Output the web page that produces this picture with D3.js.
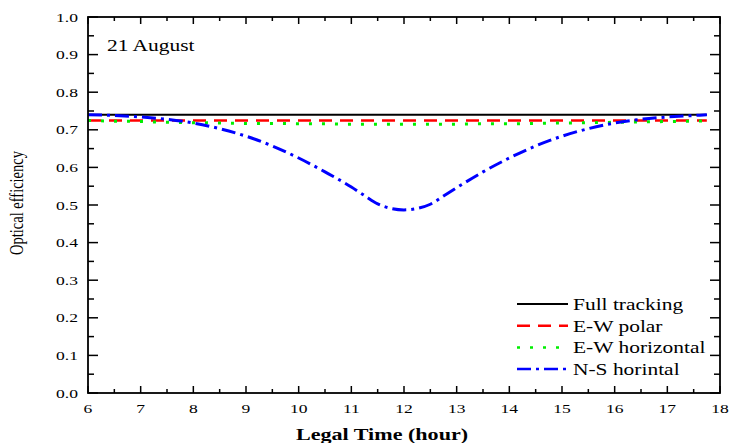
<!DOCTYPE html>
<html><head><meta charset="utf-8">
<script src="https://cdn.jsdelivr.net/npm/d3@7"></script>
<style>body{margin:0;background:#fff}svg{display:block}text{font-family:"Liberation Serif","Times New Roman",serif}</style>
</head><body><svg id="c" width="730" height="443"></svg>
<script>
const hours = [6,6.5,7,7.5,8,8.5,9,9.5,10,10.5,11,11.25,11.5,11.75,12,12.25,12.5,12.75,13,13.5,14,14.5,15,15.5,16,16.5,17,17.5,17.75];
const fullTracking = [0.74,0.74,0.74,0.74,0.74,0.74,0.74,0.74,0.74,0.74,0.74,0.74,0.74,0.74,0.74,0.74,0.74,0.74,0.74,0.74,0.74,0.74,0.74,0.74,0.74,0.74,0.74,0.74,0.74];
const ewPolar = [0.725,0.725,0.725,0.725,0.725,0.725,0.725,0.725,0.725,0.725,0.725,0.725,0.725,0.725,0.725,0.725,0.725,0.725,0.725,0.725,0.725,0.725,0.725,0.725,0.725,0.725,0.725,0.725,0.725];
const ewHorizontal = [0.725,0.723,0.722,0.720,0.719,0.718,0.717,0.717,0.716,0.716,0.715,0.715,0.715,0.715,0.715,0.715,0.715,0.715,0.715,0.716,0.716,0.717,0.718,0.719,0.720,0.721,0.722,0.723,0.724];
const nsHorizontal = [0.740,0.738,0.734,0.728,0.718,0.703,0.683,0.657,0.625,0.588,0.548,0.525,0.503,0.491,0.487,0.491,0.502,0.524,0.546,0.588,0.625,0.657,0.683,0.703,0.718,0.728,0.734,0.738,0.740];
const xTicks = [6,7,8,9,10,11,12,13,14,15,16,17,18];
const yTicks = [0,0.1,0.2,0.3,0.4,0.5,0.6,0.7,0.8,0.9,1.0];
const seriesNames = ["Full tracking","E-W polar","E-W horizontal","N-S horintal"];
const seriesColors = ["#000000","#ff0000","#00ee00","#0000ff"];
const seriesDash = [null,"13,8","3,10","14,5,3,5"];
const seriesWidth = [2,2.5,3,3];
const seriesData = [fullTracking, ewPolar, ewHorizontal, nsHorizontal];

const SX = 1.3;
const svg = d3.select("#c");
const L=88, R=720, T=17, B=393;
const x = d3.scaleLinear().domain([6,18]).range([L,R]);
const y = d3.scaleLinear().domain([0,1]).range([B,T]);

const xMinor = d3.range(6.5,18,1);
const yMinor = d3.range(0.05,1,0.1);
const tg = svg.append("g").attr("stroke","#000").attr("stroke-width",1.5);
xTicks.forEach(v=>{ tg.append("line").attr("x1",x(v)).attr("x2",x(v)).attr("y1",B).attr("y2",B-7);
  tg.append("line").attr("x1",x(v)).attr("x2",x(v)).attr("y1",T).attr("y2",T+7);});
xMinor.forEach(v=>{ tg.append("line").attr("x1",x(v)).attr("x2",x(v)).attr("y1",B).attr("y2",B-4);
  tg.append("line").attr("x1",x(v)).attr("x2",x(v)).attr("y1",T).attr("y2",T+4);});
yTicks.forEach(v=>{ tg.append("line").attr("y1",y(v)).attr("y2",y(v)).attr("x1",L).attr("x2",L+10);
  tg.append("line").attr("y1",y(v)).attr("y2",y(v)).attr("x1",R).attr("x2",R-10);});
yMinor.forEach(v=>{ tg.append("line").attr("y1",y(v)).attr("y2",y(v)).attr("x1",L).attr("x2",L+6);
  tg.append("line").attr("y1",y(v)).attr("y2",y(v)).attr("x1",R).attr("x2",R-6);});

xTicks.forEach(v=>{
  svg.append("text").attr("transform",`translate(${x(v)},413) scale(${SX},1)`)
    .attr("text-anchor","middle").attr("font-size",13.5).text(v);
});
yTicks.forEach(v=>{
  svg.append("text").attr("transform",`translate(78,${y(v)+4.5}) scale(${SX},1)`)
    .attr("text-anchor","end").attr("font-size",13.5).text(d3.format(".1f")(v));
});

const line = d3.line().x((d,i)=>x(hours[i])).y(d=>y(d)).curve(d3.curveMonotoneX);
seriesData.forEach((s,k)=>{
  svg.append("path").attr("d",line(s)).attr("fill","none")
    .attr("stroke",seriesColors[k]).attr("stroke-width",seriesWidth[k])
    .attr("stroke-dasharray",seriesDash[k]);
});

svg.append("rect").attr("x",L).attr("y",T).attr("width",R-L).attr("height",B-T)
  .attr("fill","none").attr("stroke","#000").attr("stroke-width",1.8);

svg.append("text").attr("transform",`translate(107,51) scale(${SX},1)`).attr("font-size",16.5).text("21 August");

svg.append("text").attr("transform",`translate(382,440) scale(${SX},1)`).attr("text-anchor","middle")
  .attr("font-size",17).attr("font-weight","bold").text("Legal Time (hour)");
svg.append("text").attr("transform",`translate(23,203) rotate(-90) scale(1,${SX})`).attr("text-anchor","middle")
  .attr("font-size",14.5).text("Optical efficiency");

seriesNames.forEach((n,k)=>{
  const by = 310 + k*21.7;
  svg.append("line").attr("x1",517).attr("x2",568).attr("y1",by-6).attr("y2",by-6)
    .attr("stroke",seriesColors[k]).attr("stroke-width",k==0?2:2.5).attr("stroke-dasharray",seriesDash[k]);
  svg.append("text").attr("transform",`translate(573,${by}) scale(${SX},1)`).attr("font-size",16.5).text(n);
});
</script></body></html>
